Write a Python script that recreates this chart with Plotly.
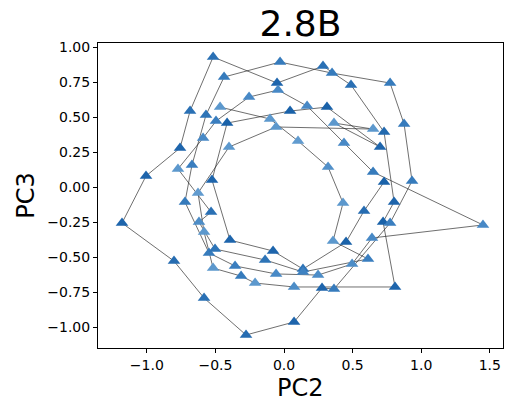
import plotly.graph_objects as go

# PC2 / PC3 coordinates of the trajectory (in drawing order) and marker shade (0 light .. 1 dark)
pc2 = [0.729, 0.583, 0.452, 0.138, -0.080, -0.394, -0.525, -0.415, 0.044, 0.313, 0.700,
       0.364, 0.649, -0.058, -0.401, -0.627, -0.583, -0.517, -0.313, -0.211, 0.073,
       0.809, 0.722, 0.802, 0.729, 0.488, 0.284, -0.051, -0.517, -0.685, -0.758,
       -1.006, -1.181, -0.802, -0.583, -0.277, 0.073, 0.277, 0.364, 0.773, 0.933,
       0.875, 0.773, 0.350, -0.029, -0.437, -0.569, -0.671, -0.722, -0.547, -0.357,
       -0.058, 0.248, 0.496, 0.641, 1.450, 0.649, 0.437, 0.168, -0.044, -0.255,
       -0.496, -0.590, -0.773, -0.532, -0.620, -0.503, -0.138, 0.138, 0.612, 0.357,
       0.430, 0.321, 0.102, -0.102, -0.466]
pc3 = [0.036, -0.171, -0.393, -0.586, -0.457, -0.379, 0.050, 0.457, 0.543, 0.571, 0.286,
       0.457, 0.414, 0.429, 0.286, -0.043, -0.321, -0.579, -0.636, -0.686, -0.714,
       -0.714, -0.250, -0.107, 0.393, 0.729, 0.864, 0.743, 0.929, 0.543, 0.279,
       0.079, -0.257, -0.529, -0.793, -1.057, -0.964, -0.721, -0.729, -0.257, 0.043,
       0.450, 0.743, 0.814, 0.893, 0.786, 0.514, 0.157, -0.107, -0.471, -0.564,
       -0.621, -0.629, -0.550, -0.364, -0.271, 0.107, 0.314, 0.579, 0.693, 0.643,
       0.471, 0.350, 0.129, -0.179, -0.250, -0.443, -0.521, -0.607, -0.514, -0.386,
       -0.114, 0.143, 0.329, 0.486, 0.571]
shade = [0.95, 0.8, 0.95, 0.7, 0.9, 0.9, 0.9, 0.95, 0.95, 0.95, 0.9,
         0.2, 0.2, 0.2, 0.2, 0.15, 0.2, 0.2, 0.6, 0.2, 0.35,
         0.9, 0.95, 0.9, 0.85, 0.75, 0.75, 0.9, 0.75, 0.75, 0.9,
         0.9, 0.9, 0.8, 0.75, 0.8, 0.9, 0.9, 0.6, 0.55, 0.6,
         0.6, 0.6, 0.6, 0.6, 0.6, 0.7, 0.55, 0.6, 0.6, 0.55,
         0.4, 0.35, 0.35, 0.4, 0.4, 0.6, 0.4, 0.4, 0.4, 0.4,
         0.55, 0.4, 0.2, 0.75, 0.35, 0.7, 0.7, 0.5, 0.55, 0.2,
         0.2, 0.3, 0.15, 0.2, 0.2]

title_text = "2.8B"
x_label = "PC2"
y_label = "PC3"
x_ticks = [-1.0, -0.5, 0.0, 0.5, 1.0, 1.5]
y_ticks = [1.0, 0.75, 0.5, 0.25, 0.0, -0.25, -0.5, -0.75, -1.0]

FONT = "DejaVu Sans"

fig = go.Figure()
fig.add_trace(go.Scatter(
    x=pc2, y=pc3, mode="lines",
    line=dict(color="rgba(40,40,40,0.75)", width=0.9),
    hoverinfo="skip", showlegend=False))
fig.add_trace(go.Scatter(
    x=pc2, y=pc3, mode="markers",
    marker=dict(symbol="triangle-up", size=11, color=shade, cmin=0, cmax=1,
                colorscale=[[0, "rgb(112,166,212)"], [0.5, "rgb(62,130,194)"], [1, "rgb(22,94,166)"]],
                line=dict(width=0)),
    showlegend=False))

axis_common = dict(showline=True, linecolor="black", linewidth=1, mirror=True,
                   ticks="outside", ticklen=4, tickwidth=1, tickcolor="black",
                   showgrid=False, zeroline=False,
                   tickfont=dict(family=FONT, size=14, color="black"))

fig.update_layout(
    width=507, height=405,
    margin=dict(l=98, r=4, t=43, b=57),
    paper_bgcolor="white", plot_bgcolor="white",
    title=dict(text=title_text, x=0.5, xref="paper", y=1 - 23 / 405, yref="container",
               xanchor="center", yanchor="middle",
               font=dict(family=FONT, size=36, color="black")),
    xaxis=dict(range=[-1.356, 1.596], tickvals=x_ticks, tickformat=".1f", **axis_common),
    yaxis=dict(range=[-1.150, 1.029], tickvals=y_ticks, tickformat=".2f", **axis_common),
    annotations=[
        dict(text=x_label, x=0.5, y=-0.13, xref="paper", yref="paper",
             xanchor="center", yanchor="middle", showarrow=False,
             font=dict(family=FONT, size=24, color="black")),
        dict(text=y_label, x=-0.178, y=0.502, xref="paper", yref="paper",
             xanchor="center", yanchor="middle", showarrow=False, textangle=-90,
             font=dict(family=FONT, size=24, color="black")),
    ],
)

fig.write_html("out.html")
